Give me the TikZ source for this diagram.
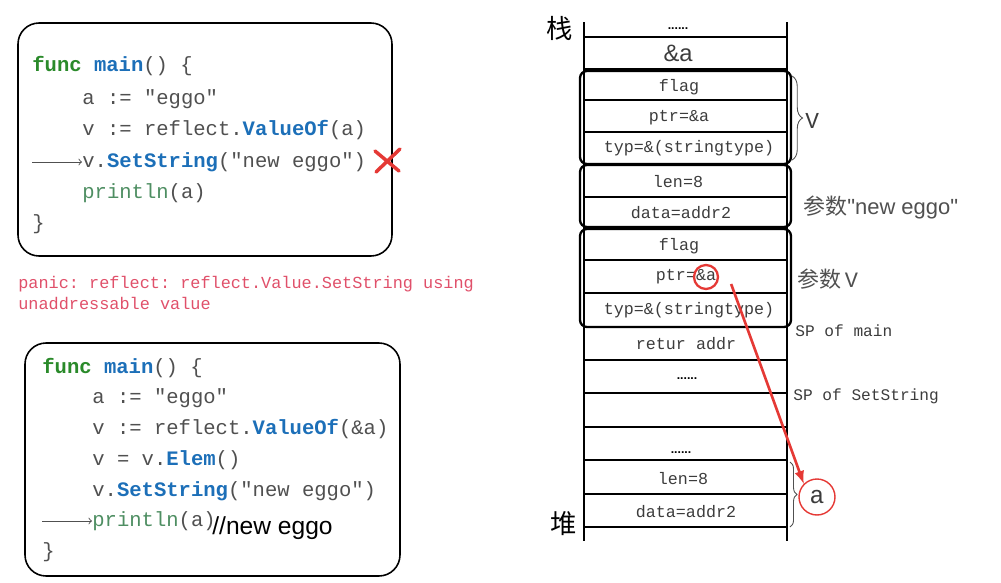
\documentclass[tikz,border=0pt]{standalone}
\usepackage{fontspec}
\setmainfont{Liberation Sans}
\setmonofont{Liberation Mono}
\newfontfamily\cjkfont{Noto Sans CJK SC}
\usepackage{tikz}
\usetikzlibrary{arrows,decorations.pathreplacing}

\definecolor{codegray}{HTML}{505050}
\definecolor{gofunc}{HTML}{2A8A2A}
\definecolor{gocall}{HTML}{1C6FB8}
\definecolor{goprint}{HTML}{4E8E62}
\definecolor{panicred}{HTML}{E0506A}
\definecolor{markred}{HTML}{E53935}
\definecolor{cellgray}{HTML}{3C3C3C}

\newcommand\codefont{\fontsize{11.7}{14}\selectfont\ttfamily}
\newcommand\cellfont{\fontsize{9.5}{11}\selectfont\ttfamily}
\newcommand\kwfunc[1]{\textbf{\color{gofunc}#1}}
\newcommand\kwcall[1]{\textbf{\color{gocall}#1}}
\newcommand\kwprint[1]{{\color{goprint}#1}}

\begin{document}
\begin{tikzpicture}[x=0.02cm, y=-0.02cm,
	codebox/.style={draw, line width=0.9pt, rounded corners=12pt},
	codeline/.style={font=\codefont, text=codegray, inner sep=0pt},
	cellline/.style={line width=0.8pt},
	celltext/.style={font=\cellfont, text=cellgray, inner sep=0pt},
	celldots/.style={font=\fontsize{7}{8}\selectfont\bfseries, inner sep=0pt},
	groupbox/.style={line width=1.3pt, rounded corners=4pt},
	sidetext/.style={font=\fontsize{9.2}{11}\selectfont\ttfamily, text=cellgray, inner sep=0pt},
	markarrow/.style={draw=markred, line width=1.5pt, -latex}]
		\useasboundingbox (0,0) rectangle (1001,582);
%		\draw[help lines] (0,0) grid[step=50] (1001,582);

		% first program
		\draw[codebox] (18,23) rectangle (392,256);
		\path (32,66) node(f1_head) [right, codeline] {\kwfunc{func} \kwcall{main}() \{};
		\path (82,99) node(f1_a) [right, codeline] {a := "eggo"};
		\path (82,130) node(f1_v) [right, codeline] {v := reflect.\kwcall{ValueOf}(a)};
		\path (82,162) node(f1_set) [right, codeline] {v.\kwcall{SetString}("new eggo")};
		\path (82,193) node(f1_print) [right, codeline] {\kwprint{println}(a)};
		\path (32,224) node(f1_end) [right, codeline] {\}};
		\path (32,162) coordinate (f1_arrow);
		\draw[codegray, line width=0.5pt, ->] (f1_arrow) -- (f1_set.west);
		\path (387,160) coordinate (cross);
		\draw[markred, line width=2pt, line cap=round] (cross) +(-12,-9) -- +(12,11) (cross) +(13,-11) -- +(-11,12);

		\path (18,293) node(panic) [right, align=left, text=panicred, inner sep=0pt,
			font=\fontsize{9.6}{12.5}\selectfont\ttfamily]
			{panic: reflect: reflect.Value.SetString using\\unaddressable value};

		% second program
		\draw[codebox] (25,343) rectangle (400,576);
		\path (42,368) node(f2_head) [right, codeline] {\kwfunc{func} \kwcall{main}() \{};
		\path (92,398) node(f2_a) [right, codeline] {a := "eggo"};
		\path (92,429) node(f2_v) [right, codeline] {v := reflect.\kwcall{ValueOf}(\&a)};
		\path (92,460) node(f2_elem) [right, codeline] {v = v.\kwcall{Elem}()};
		\path (92,491) node(f2_set) [right, codeline] {v.\kwcall{SetString}("new eggo")};
		\path (92,521) node(f2_print) [right, codeline] {\kwprint{println}(a)};
		\path (42,552) node(f2_end) [right, codeline] {\}};
		\path (212,528) node(f2_note) [right, inner sep=0pt, font=\fontsize{14}{16}\selectfont] {//new eggo};
		\path (42,521) coordinate (f2_arrow);
		\draw[codegray, line width=0.5pt, ->] (f2_arrow) -- (f2_print.west);

		% stack
		\draw[cellline] (584,22) -- (584,541);
		\draw[cellline] (787,22) -- (787,541);
		\draw[cellline] (584,37) -- (787,37) (584,69) -- (787,69) (584,100) -- (787,100)
			(584,132) -- (787,132) (584,164) -- (787,164) (584,197) -- (787,197)
			(584,228) -- (787,228) (584,260) -- (787,260) (584,293) -- (787,293)
			(584,327) -- (787,327) (584,360) -- (787,360) (584,393) -- (787,393)
			(584,427) -- (787,427) (584,460) -- (787,460) (584,494) -- (787,494)
			(584,527) -- (787,527);
		\draw[groupbox] (580,71) rectangle (791,164);
		\draw[groupbox] (580,165) rectangle (791,227);
		\draw[groupbox] (580,229) rectangle (791,327);

		\path (678,29) node(st_dots) [celldots] {......};
		\path (678,53) node(st_ref) [inner sep=0pt, font=\fontsize{13.5}{15}\selectfont, text=cellgray] {\&a};
		\path (679,87) node(v_flag) [celltext] {flag};
		\path (679,118) node(v_ptr) [celltext] {ptr=\&a};
		\path (689,148) node(v_typ) [celltext] {typ=\&(stringtype)};
		\path (678,182) node(s_len) [celltext] {len=8};
		\path (681,213) node(s_data) [celltext] {data=addr2};
		\path (679,246) node(p_flag) [celltext] {flag};
		\path (686,277) node(p_ptr) [celltext] {ptr=\&a};
		\path (689,310) node(p_typ) [celltext] {typ=\&(stringtype)};
		\path (686,344) node(ret_addr) [celltext] {retur addr};
		\path (687,379) node(st_dots1) [celldots] {......};
		\path (681,453) node(st_dots2) [celldots] {......};
		\path (683,479) node(h_len) [celltext] {len=8};
		\path (686,512) node(h_data) [celltext] {data=addr2};

		\path (560,28) node(stack_lbl) [font=\cjkfont\fontsize{15}{16}\selectfont] {栈};
		\path (564,524) node(heap_lbl) [font=\cjkfont\fontsize{15}{16}\selectfont] {堆};

		% labels on the right
		\draw[codegray, line width=0.5pt, decorate, decoration={brace, amplitude=6pt}] (792,76) -- (792,160);
		\path (805,121) node(v_lbl) [right, inner sep=0pt, font=\fontsize{13}{15}\selectfont\ttfamily, text=cellgray] {V};
		\path (803,207) node(arg_str) [right, inner sep=0pt, text=codegray, font=\fontsize{12.5}{15}\selectfont]
			{{\cjkfont 参数}\textquotedbl new eggo\textquotedbl};
		\path (797,279) node(arg_v) [right, inner sep=0pt, text=codegray, font=\fontsize{12.5}{15}\selectfont]
			{{\cjkfont 参数}\,{\ttfamily V}};
		\path (795,331) node(sp_main) [right, sidetext] {SP of main};
		\path (793,396) node(sp_set) [right, sidetext] {SP of SetString};

		% pointer to the heap
		\draw[codegray, line width=0.5pt, decorate, decoration={brace, amplitude=4pt}] (790,462) -- (790,527);
		\path (706,277) node(ptrmark) [circle, draw=markred, line width=1.3pt, minimum size=0.48cm, inner sep=0pt] {};
		\path (817,497) node(heapa) [circle, draw=markred, line width=0.8pt, minimum size=0.72cm, inner sep=0pt,
			font=\fontsize{14}{16}\selectfont\ttfamily, text=cellgray] {a};
		\draw[markarrow] (ptrmark.east) ++(12,7) -- (heapa.north west);
	\end{tikzpicture}
\end{document}
